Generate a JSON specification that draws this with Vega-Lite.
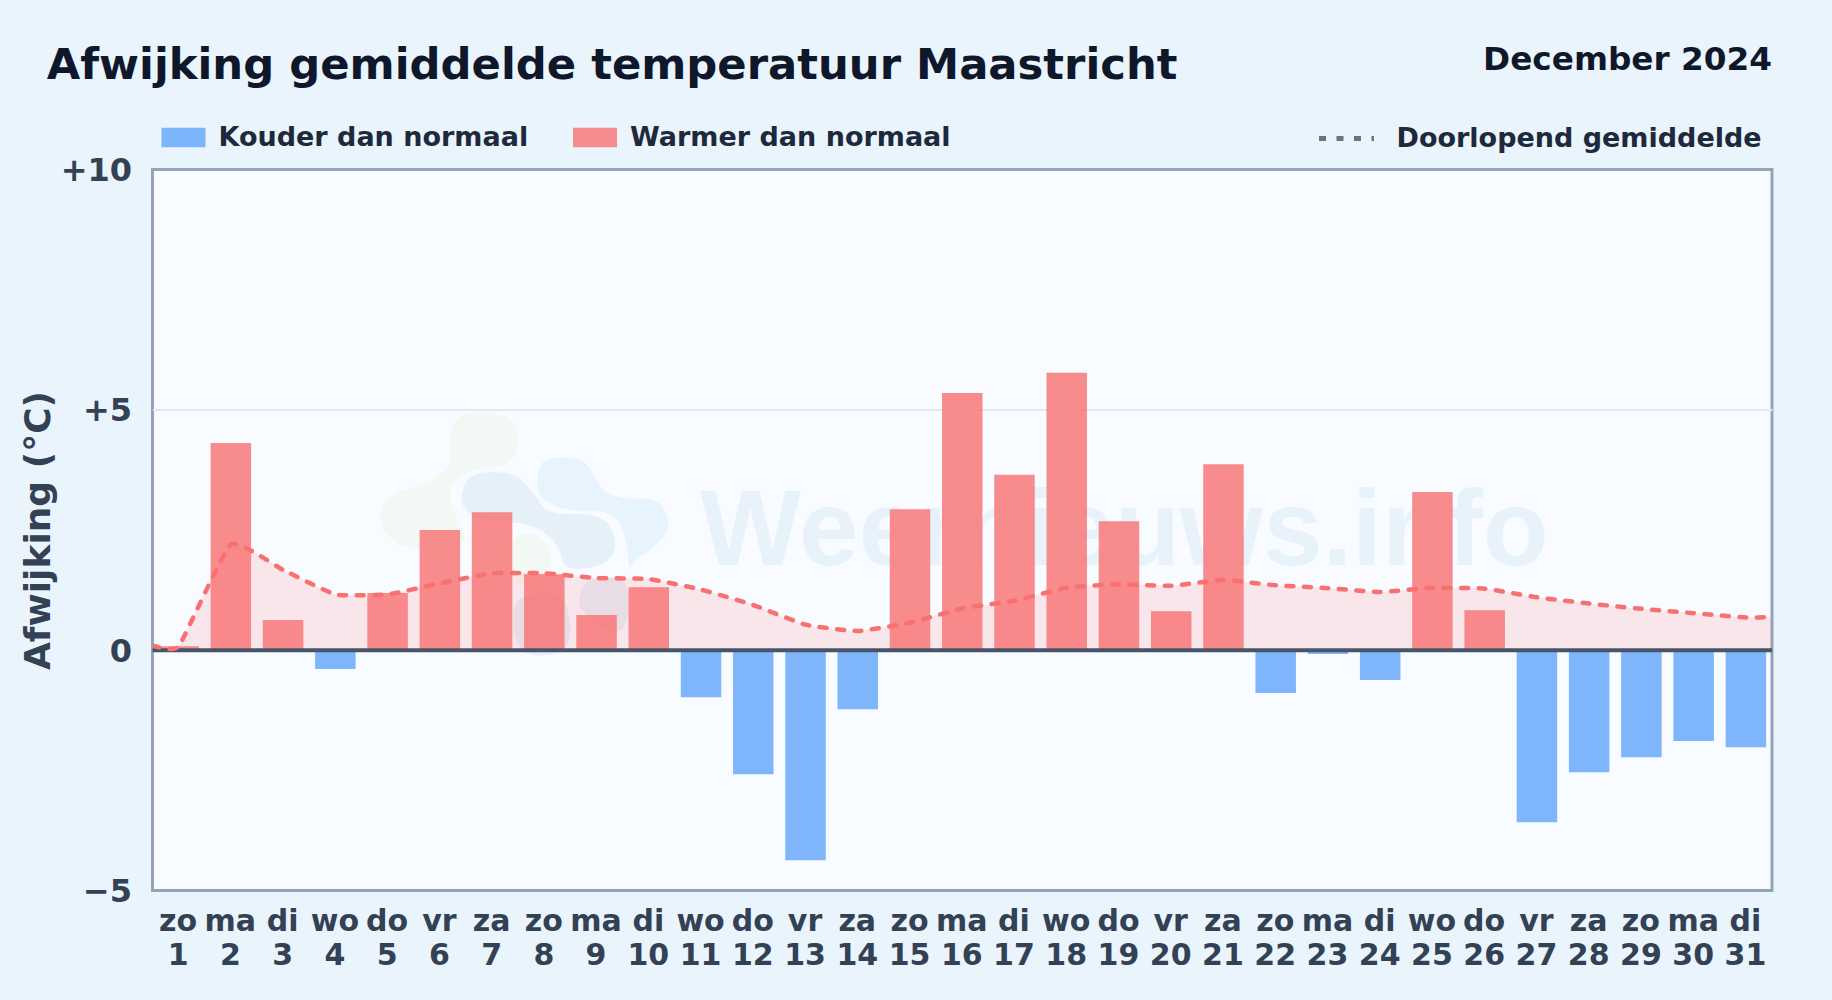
{
"$schema":"https://vega.github.io/schema/vega-lite/v6.json",
"width":1619.5,"height":721,
"autosize":"none",
"padding":{"left":152.5,"top":169.5,"right":60,"bottom":110},
"background":"#e9f4fd",
"view":{"fill":"#f8fbff","stroke":"#94a3b8","strokeWidth":3},
"title":{"text":"Afwijking gemiddelde temperatuur Maastricht","anchor":"start","frame":"group","dx":-105.8,"offset":-78.5,"baseline":"alphabetic","font":"DejaVu Sans","fontWeight":"bold","fontSize":43.3,"color":"#0f172a"},
"config":{"font":"DejaVu Sans"},
"datasets":{
"days":[
{"day":1,"afwijking":0.08,"soort":"Warmer dan normaal"},
{"day":2,"afwijking":4.31,"soort":"Warmer dan normaal"},
{"day":3,"afwijking":0.63,"soort":"Warmer dan normaal"},
{"day":4,"afwijking":-0.39,"soort":"Kouder dan normaal"},
{"day":5,"afwijking":1.19,"soort":"Warmer dan normaal"},
{"day":6,"afwijking":2.5,"soort":"Warmer dan normaal"},
{"day":7,"afwijking":2.87,"soort":"Warmer dan normaal"},
{"day":8,"afwijking":1.58,"soort":"Warmer dan normaal"},
{"day":9,"afwijking":0.73,"soort":"Warmer dan normaal"},
{"day":10,"afwijking":1.31,"soort":"Warmer dan normaal"},
{"day":11,"afwijking":-0.98,"soort":"Kouder dan normaal"},
{"day":12,"afwijking":-2.58,"soort":"Kouder dan normaal"},
{"day":13,"afwijking":-4.37,"soort":"Kouder dan normaal"},
{"day":14,"afwijking":-1.23,"soort":"Kouder dan normaal"},
{"day":15,"afwijking":2.93,"soort":"Warmer dan normaal"},
{"day":16,"afwijking":5.35,"soort":"Warmer dan normaal"},
{"day":17,"afwijking":3.65,"soort":"Warmer dan normaal"},
{"day":18,"afwijking":5.77,"soort":"Warmer dan normaal"},
{"day":19,"afwijking":2.68,"soort":"Warmer dan normaal"},
{"day":20,"afwijking":0.81,"soort":"Warmer dan normaal"},
{"day":21,"afwijking":3.87,"soort":"Warmer dan normaal"},
{"day":22,"afwijking":-0.89,"soort":"Kouder dan normaal"},
{"day":23,"afwijking":-0.08,"soort":"Kouder dan normaal"},
{"day":24,"afwijking":-0.62,"soort":"Kouder dan normaal"},
{"day":25,"afwijking":3.29,"soort":"Warmer dan normaal"},
{"day":26,"afwijking":0.83,"soort":"Warmer dan normaal"},
{"day":27,"afwijking":-3.58,"soort":"Kouder dan normaal"},
{"day":28,"afwijking":-2.54,"soort":"Kouder dan normaal"},
{"day":29,"afwijking":-2.23,"soort":"Kouder dan normaal"},
{"day":30,"afwijking":-1.89,"soort":"Kouder dan normaal"},
{"day":31,"afwijking":-2.02,"soort":"Kouder dan normaal"}
],
"running":[
{"x":0.5,"gem":0.1,"reeks":"Doorlopend gemiddelde"},
{"x":1,"gem":0.08,"reeks":"Doorlopend gemiddelde"},
{"x":2,"gem":2.2,"reeks":"Doorlopend gemiddelde"},
{"x":3,"gem":1.67,"reeks":"Doorlopend gemiddelde"},
{"x":4,"gem":1.16,"reeks":"Doorlopend gemiddelde"},
{"x":5,"gem":1.16,"reeks":"Doorlopend gemiddelde"},
{"x":6,"gem":1.39,"reeks":"Doorlopend gemiddelde"},
{"x":7,"gem":1.6,"reeks":"Doorlopend gemiddelde"},
{"x":8,"gem":1.6,"reeks":"Doorlopend gemiddelde"},
{"x":9,"gem":1.5,"reeks":"Doorlopend gemiddelde"},
{"x":10,"gem":1.48,"reeks":"Doorlopend gemiddelde"},
{"x":11,"gem":1.26,"reeks":"Doorlopend gemiddelde"},
{"x":12,"gem":0.94,"reeks":"Doorlopend gemiddelde"},
{"x":13,"gem":0.53,"reeks":"Doorlopend gemiddelde"},
{"x":14,"gem":0.4,"reeks":"Doorlopend gemiddelde"},
{"x":15,"gem":0.57,"reeks":"Doorlopend gemiddelde"},
{"x":16,"gem":0.87,"reeks":"Doorlopend gemiddelde"},
{"x":17,"gem":1.03,"reeks":"Doorlopend gemiddelde"},
{"x":18,"gem":1.3,"reeks":"Doorlopend gemiddelde"},
{"x":19,"gem":1.37,"reeks":"Doorlopend gemiddelde"},
{"x":20,"gem":1.34,"reeks":"Doorlopend gemiddelde"},
{"x":21,"gem":1.46,"reeks":"Doorlopend gemiddelde"},
{"x":22,"gem":1.35,"reeks":"Doorlopend gemiddelde"},
{"x":23,"gem":1.29,"reeks":"Doorlopend gemiddelde"},
{"x":24,"gem":1.21,"reeks":"Doorlopend gemiddelde"},
{"x":25,"gem":1.3,"reeks":"Doorlopend gemiddelde"},
{"x":26,"gem":1.28,"reeks":"Doorlopend gemiddelde"},
{"x":27,"gem":1.1,"reeks":"Doorlopend gemiddelde"},
{"x":28,"gem":0.97,"reeks":"Doorlopend gemiddelde"},
{"x":29,"gem":0.86,"reeks":"Doorlopend gemiddelde"},
{"x":30,"gem":0.77,"reeks":"Doorlopend gemiddelde"},
{"x":31,"gem":0.68,"reeks":"Doorlopend gemiddelde"},
{"x":31.5,"gem":0.69,"reeks":"Doorlopend gemiddelde"}
],
"logo":[{"x":7.66,"y":2.4}]
},
"encoding":{},
"layer":[
{"data":{"name":"logo"},"mark":{"type":"point","filled":true,"size":0.444,"opacity":1,"color":"#f2f9f4","shape":"M-228,-260Q-235,-310 -218,-338Q-200,-365 -150,-368Q-100,-370 -62,-355Q-25,-340 -25,-295Q-25,-250 -42,-228Q-60,-205 -120,-200Q-180,-195 -208,-168Q-235,-140 -225,-95Q-215,-50 -192,-12Q-170,25 -220,30Q-270,35 -320,40Q-370,45 -410,8Q-450,-30 -435,-75Q-420,-120 -355,-138Q-290,-155 -255,-182Q-220,-210 -228,-260Z"},
"encoding":{"x":{"field":"x","type":"quantitative","scale":{"domain":[0.5,31.5],"nice":false,"zero":false,"padding":0},"axis":{"values":[1,2,3,4,5,6,7,8,9,10,11,12,13,14,15,16,17,18,19,20,21,22,23,24,25,26,27,28,29,30,31],"title":null,"grid":false,"domain":false,"ticks":false,"labelFont":"DejaVu Sans","labelFontWeight":"bold","labelFontSize":30,"labelColor":"#334155","labelPadding":16,"labelOffset":-1,"labelLineHeight":34,"labelOverlap":false,"labelFlush":false,"labelBound":false,"labelAngle":0,"labelExpr":"[['zo','ma','di','wo','do','vr','za'][(datum.value-1)%7],''+datum.value]"}},
"y":{"field":"y","type":"quantitative","scale":{"domain":[-5,10],"nice":false,"zero":false},"axis":{"values":[-5,0,5,10],"title":"Afwijking (°C)","titleFont":"DejaVu Sans","titleFontWeight":"bold","titleFontSize":36,"titleColor":"#334155","titlePadding":2.2,"grid":true,"gridColor":{"condition":{"test":"datum.value==5","value":"#e2e8f0"},"value":"transparent"},"gridWidth":2,"domain":false,"ticks":false,"labelFont":"DejaVu Sans","labelFontWeight":"bold","labelFontSize":32,"labelColor":"#334155","labelPadding":21,"labelOffset":1,"labelOverlap":false,"labelFlush":false,"labelBound":false,"labelExpr":"datum.value>0?'+'+datum.value:datum.value<0?'−'+abs(datum.value):'0'"}}}},
{"data":{"name":"logo"},"mark":{"type":"point","filled":true,"size":0.444,"opacity":1,"color":"#e8f4fd","shape":"M32,-145Q30,-180 42,-208Q55,-235 118,-232Q180,-230 200,-182Q220,-135 255,-120Q290,-105 345,-108Q400,-110 418,-65Q435,-20 408,10Q380,40 348,60Q315,80 312,100Q310,120 305,65Q300,10 280,-32Q260,-75 190,-72Q120,-70 78,-90Q35,-110 32,-145Z"},"encoding":{"x":{"field":"x","type":"quantitative"},"y":{"field":"y","type":"quantitative"}}},
{"data":{"name":"logo"},"mark":{"type":"point","filled":true,"size":0.444,"opacity":1,"color":"#e6f0f9","shape":"M-195,-105Q-195,-130 -182,-158Q-170,-185 -105,-188Q-40,-190 -10,-160Q20,-130 40,-95Q60,-60 140,-62Q220,-65 248,-28Q275,10 262,50Q250,90 180,100Q110,110 105,70Q100,30 60,-2Q20,-35 -55,-38Q-130,-40 -162,-60Q-195,-80 -195,-105Z"},"encoding":{"x":{"field":"x","type":"quantitative"},"y":{"field":"y","type":"quantitative"}}},
{"data":{"name":"logo"},"mark":{"type":"point","filled":true,"size":0.444,"opacity":1,"color":"#f2f9f4","shape":"M-5,-5Q40,-5 62,32Q85,70 68,100Q50,130 0,145Q-50,160 -50,78Q-50,-5 -5,-5Z"},"encoding":{"x":{"field":"x","type":"quantitative"},"y":{"field":"y","type":"quantitative"}}},
{"data":{"name":"logo"},"mark":{"type":"point","filled":true,"size":0.444,"opacity":1,"color":"#e6f0f9","shape":"M-5,185Q40,170 80,175Q120,180 130,260Q140,340 90,355Q40,370 2,355Q-35,340 -40,270Q-45,200 -5,185Z"},"encoding":{"x":{"field":"x","type":"quantitative"},"y":{"field":"y","type":"quantitative"}}},
{"data":{"name":"logo"},"mark":{"type":"point","filled":true,"size":0.444,"opacity":1,"color":"#e6f0f9","shape":"M172,152Q190,125 250,128Q310,130 308,200Q305,270 282,285Q260,300 210,265Q160,230 158,205Q155,180 172,152Z"},"encoding":{"x":{"field":"x","type":"quantitative"},"y":{"field":"y","type":"quantitative"}}},
{"data":{"values":[{"t":"Weernieuws.info"}]},"mark":{"type":"text","font":"Liberation Sans","fontWeight":"bold","fontSize":107,"color":"#e8f2fa","align":"center","baseline":"alphabetic"},"encoding":{"text":{"field":"t"},"x":{"datum":19.1},"y":{"datum":1.77}}},
{"data":{"name":"running"},"mark":{"type":"area","color":"#f87171","opacity":0.15,"interpolate":"cardinal","tension":0.6},"encoding":{"x":{"field":"x","type":"quantitative"},"y":{"field":"gem","type":"quantitative"}}},
{"data":{"name":"days"},"mark":{"type":"bar","orient":"vertical","width":40.5,"opacity":0.8},"encoding":{"x":{"field":"day","type":"quantitative"},"y":{"field":"afwijking","type":"quantitative"},"color":{"field":"soort","type":"nominal","scale":{"domain":["Kouder dan normaal","Warmer dan normaal"],"range":["#60a5fa","#f87171"]},"legend":{"title":null,"orient":"none","legendX":9,"legendY":-54,"direction":"horizontal","columns":2,"columnPadding":44.5,"symbolType":"M-1,-0.44H1V0.44H-1Z","symbolSize":1936,"symbolStrokeWidth":0,"labelOffset":13,"labelFont":"DejaVu Sans","labelFontWeight":"bold","labelFontSize":27,"labelColor":"#1e293b","labelLimit":500}}}},
{"data":{"values":[{"v":0}]},"mark":{"type":"rule","color":"#475569","strokeWidth":4},"encoding":{"y":{"field":"v","type":"quantitative"}}},
{"data":{"name":"running"},"mark":{"type":"line","color":"#f87171","strokeWidth":4.5,"strokeCap":"round","interpolate":"cardinal","tension":0.6,"clip":true},"encoding":{"x":{"field":"x","type":"quantitative"},"y":{"field":"gem","type":"quantitative"},"strokeDash":{"field":"reeks","type":"nominal","scale":{"domain":["Doorlopend gemiddelde"],"range":[[7,10.5]]},"legend":{"title":null,"orient":"none","legendX":1164,"legendY":-61,"symbolType":"stroke","symbolSize":3025,"symbolStrokeColor":"#64748b","symbolStrokeWidth":4,"labelOffset":20,"labelFont":"DejaVu Sans","labelFontWeight":"bold","labelFontSize":27,"labelColor":"#1e293b","labelLimit":500,"encode":{"symbols":{"update":{"strokeDash":{"value":[5,11]},"strokeCap":{"value":"butt"},"strokeWidth":{"value":5}}}}}}}},
{"data":{"values":[{"t":"December 2024"}]},"mark":{"type":"text","font":"DejaVu Sans","fontWeight":"bold","fontSize":32.7,"color":"#0f172a","align":"right","baseline":"alphabetic"},"encoding":{"text":{"field":"t"},"x":{"datum":31.5},"y":{"datum":12.07}}}
]
}
